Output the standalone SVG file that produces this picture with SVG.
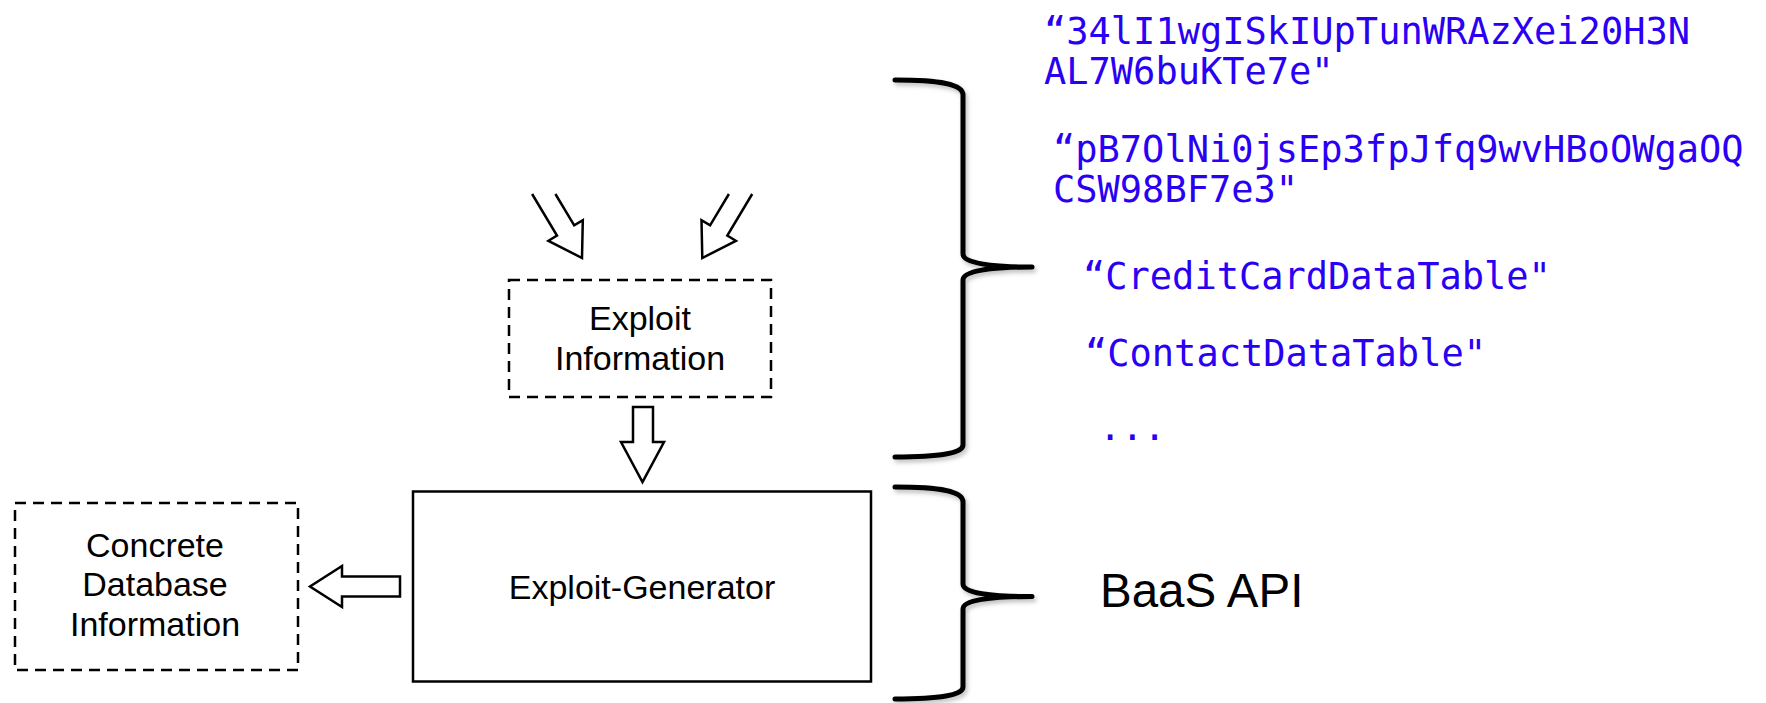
<svg xmlns="http://www.w3.org/2000/svg" width="1766" height="703" viewBox="0 0 1766 703">
  <style>
    .sans { font-family: "Liberation Sans", Arial, Helvetica, sans-serif; fill: #000; }
    .label { font-size: 34px; text-anchor: middle; }
    .code { font-family: "DejaVu Sans Mono", "Liberation Mono", monospace; font-size: 37px; fill: #2a00f5; }
    .box { fill: #fff; stroke: #000; stroke-width: 2.5; }
    .dashed { fill: none; stroke: #000; stroke-width: 2.5; stroke-dasharray: 11 7; }
    .blockarrow { fill: #fff; stroke: #000; stroke-width: 2.5; stroke-linejoin: miter; }
    .brace { fill: none; stroke: #000; stroke-width: 5; stroke-linecap: round; stroke-linejoin: round; }
  </style>
  <defs>
    <filter id="braceShadow" x="-20%" y="-5%" width="140%" height="110%">
      <feDropShadow dx="2" dy="3" stdDeviation="2" flood-color="#000" flood-opacity="0.25"/>
    </filter>
  </defs>

  <rect width="1766" height="703" fill="#fff"/>

  <!-- Nodes -->
  <g id="exploit-information">
    <rect class="dashed" x="509" y="280" width="262" height="117"/>
    <text class="sans label" x="640" y="330">Exploit</text>
    <text class="sans label" x="640" y="369.5">Information</text>
  </g>

  <g id="exploit-generator">
    <rect class="box" x="413" y="491.5" width="458" height="190"/>
    <text class="sans label" x="642" y="598.5">Exploit-Generator</text>
  </g>

  <g id="concrete-database-information">
    <rect class="dashed" x="15" y="503" width="283" height="167"/>
    <text class="sans label" x="155" y="557">Concrete</text>
    <text class="sans label" x="155" y="596">Database</text>
    <text class="sans label" x="155" y="636">Information</text>
  </g>

  <!-- Connectors: hollow block arrows -->
  <g id="connectors">
    <!-- incoming, upper left -->
    <path class="blockarrow" d="M532.1,194 L557,235.6 L548.4,240.8 L582,258 L582.8,220.2 L574.2,225.4 L555.4,194"/>
    <!-- incoming, upper right -->
    <path class="blockarrow" d="M752.2,194 L727.3,235.6 L735.9,240.8 L702.3,258 L701.5,220.2 L710.1,225.4 L728.9,194"/>
    <!-- Exploit Information to Exploit-Generator -->
    <path class="blockarrow" d="M633,407 L653,407 L653,442 L664,442 L642.5,482 L621,442 L633,442 Z"/>
    <!-- Exploit-Generator to Concrete Database Information -->
    <path class="blockarrow" d="M400,576.5 L400,596.5 L342,596.5 L342,607 L310,586.5 L342,566 L342,576.5 Z"/>
  </g>

  <!-- Curly braces -->
  <g id="braces" filter="url(#braceShadow)">
    <path class="brace" d="M895,80 C940,80 963,84 963,95 L963,254 C963,263 990,267 1032,267 C990,267 963,271 963,280 L963,445 C963,453 940,457 895,457"/>
    <path class="brace" d="M895,487 C940,487 963,491 963,502 L963,584 C963,593 990,596.5 1032,596.5 C990,596.5 963,600 963,609 L963,687 C963,695 940,699 895,699"/>
  </g>

  <!-- Values sent to the backend -->
  <g id="exploit-values">
    <text class="code" x="1044" y="43.5">“34lI1wgISkIUpTunWRAzXei20H3N</text>
    <text class="code" x="1044" y="84">AL7W6buKTe7e"</text>
    <text class="code" x="1053" y="161.5">“pB7OlNi0jsEp3fpJfq9wvHBoOWgaOQ</text>
    <text class="code" x="1053" y="202">CSW98BF7e3"</text>
    <text class="code" x="1083" y="289">“CreditCardDataTable"</text>
    <text class="code" x="1085" y="365.5">“ContactDataTable"</text>
    <text class="code" x="1099" y="440">...</text>
  </g>

  <g id="baas-api">
    <text class="sans" x="1100" y="607" font-size="47.5">BaaS API</text>
  </g>
</svg>
